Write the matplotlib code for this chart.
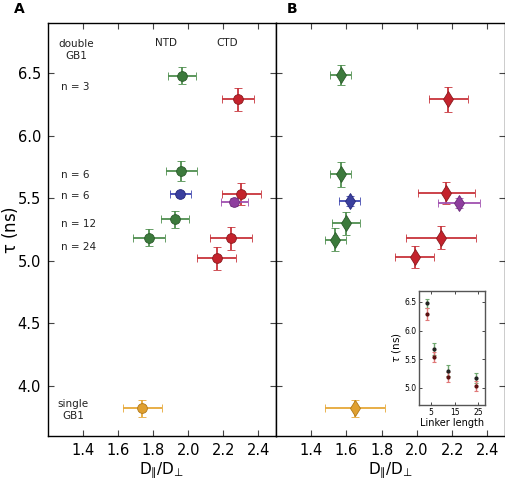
import matplotlib
matplotlib.use("Agg")
import matplotlib.pyplot as plt

plt.rcParams['font.family'] = ['DejaVu Sans']
plt.rcParams['mathtext.fontset'] = 'dejavusans'

# ---- data: panel A (circles) ----
labels = ["NTD n=3", "CTD n=3", "NTD n=6", "NTD(blue) n=6", "CTD n=6", "CTD(purple) n=6",
          "NTD n=12", "CTD n=12", "NTD n=24", "CTD n=24", "single GB1"]
colors = ["green", "red", "green", "blue", "red", "purple",
          "green", "red", "green", "red", "orange"]
A_x = [1.963, 2.282, 1.960, 1.954, 2.303, 2.262, 1.925, 2.243, 1.777, 2.162, 1.738]
A_xerr = [0.08, 0.09, 0.09, 0.06, 0.11, 0.076, 0.08, 0.12, 0.09, 0.11, 0.11]
A_y = [6.48, 6.29, 5.72, 5.53, 5.535, 5.47, 5.33, 5.18, 5.185, 5.02, 3.82]
A_yerr = [0.07, 0.09, 0.08, 0.02, 0.09, 0.03, 0.07, 0.09, 0.07, 0.09, 0.07]

# ---- data: panel B (diamonds) ----
B_x = [1.567, 2.178, 1.567, 1.618, 2.167, 2.237, 1.599, 2.136, 1.537, 1.987, 1.648]
B_xerr = [0.06, 0.11, 0.06, 0.06, 0.16, 0.12, 0.08, 0.20, 0.06, 0.11, 0.17]
B_y = [6.485, 6.29, 5.69, 5.48, 5.54, 5.46, 5.30, 5.185, 5.17, 5.03, 3.82]
B_yerr = [0.08, 0.10, 0.10, 0.04, 0.09, 0.04, 0.09, 0.09, 0.09, 0.09, 0.07]

# ---- inset data ----
linker = [3, 6, 12, 24]
inset_ntd = [6.48, 5.68, 5.30, 5.17]
inset_ntd_err = [0.08, 0.10, 0.09, 0.09]
inset_ctd = [6.29, 5.54, 5.185, 5.03]
inset_ctd_err = [0.10, 0.09, 0.09, 0.09]

xticks = [1.4, 1.6, 1.8, 2.0, 2.2, 2.4]
yticks = [4.0, 4.5, 5.0, 5.5, 6.0, 6.5]

palette = {
    "green": ("#3c7a3c", "#2a5a2a", "#4f8f4f"),
    "red": ("#c4222c", "#8a1a1e", "#c8343c"),
    "blue": ("#3a3f9e", "#26287a", "#4048b0"),
    "purple": ("#8e3e9e", "#6a2a78", "#a050b0"),
    "orange": ("#e0a030", "#b07818", "#e6a838"),
}

fig = plt.figure(figsize=(5.06, 4.82), dpi=100)
axA = fig.add_axes([48/506, 1-436/482, 228/506, 413/482])
axB = fig.add_axes([276/506, 1-436/482, 229/506, 413/482])

def draw(ax, xs, xe, ys, ye, marker, ms):
    for x, dx, y, dy, c in zip(xs, xe, ys, ye, colors):
        face, edge, bar = palette[c]
        ax.errorbar(x, y, xerr=dx, yerr=dy, fmt=marker, color=bar, ecolor=bar,
                    mfc=face, mec=edge, ms=ms, elinewidth=1.3, capsize=3, capthick=1.0,
                    mew=0.6, zorder=3)

draw(axA, A_x, A_xerr, A_y, A_yerr, 'o', 7)
draw(axB, B_x, B_xerr, B_y, B_yerr, 'd', 8)

xlab = r'$\mathrm{D}_{∥}/\mathrm{D}_{⊥}$'
for ax in (axA, axB):
    ax.set_xlim(1.2, 2.5)
    ax.set_ylim(3.6, 6.9)
    ax.set_xticks(xticks)
    ax.set_yticks(yticks)
    ax.tick_params(direction='in', top=True, right=True, length=4, width=0.8,
                   labelsize=10.5, pad=5, color='#444444')
    for s in ax.spines.values():
        s.set_linewidth(1.0)
    ax.set_xlabel(xlab, fontsize=11, labelpad=2)

axB.tick_params(labelleft=False)
axA.set_ylabel(r'$\mathrm{\tau}$ (ns)', fontsize=12)
axA.yaxis.set_label_coords(-0.125, 0.5)

# panel A annotations
tk = dict(fontsize=7.5, color='#222222')
axA.text(1.362, 6.685, "double\nGB1", ha='center', va='center', linespacing=1.25, **tk)
axA.text(1.873, 6.74, "NTD", ha='center', va='center', **tk)
axA.text(2.22, 6.74, "CTD", ha='center', va='center', **tk)
axA.text(1.272, 6.39, "n = 3", ha='left', va='center', **tk)
axA.text(1.272, 5.687, "n = 6", ha='left', va='center', **tk)
axA.text(1.272, 5.52, "n = 6", ha='left', va='center', **tk)
axA.text(1.272, 5.293, "n = 12", ha='left', va='center', **tk)
axA.text(1.272, 5.112, "n = 24", ha='left', va='center', **tk)
axA.text(1.345, 3.81, "single\nGB1", ha='center', va='center', linespacing=1.25, **tk)

fig.text(19/506, 1-9/482, "A", fontsize=10, fontweight='bold', ha='center', va='center')
fig.text(292/506, 1-9/482, "B", fontsize=10, fontweight='bold', ha='center', va='center')

# inset
axI = fig.add_axes([419.5/506, 1-405/482, 65.5/506, 114.5/482])
axI.errorbar(linker, inset_ntd, yerr=inset_ntd_err, fmt='o', ms=2, color='#222222',
             ecolor='#6fa86f', elinewidth=1.0, capsize=1.5, capthick=0.8, zorder=3)
axI.errorbar(linker, inset_ctd, yerr=inset_ctd_err, fmt='o', ms=2, color='#5a1010',
             ecolor='#e07878', elinewidth=1.0, capsize=1.5, capthick=0.8, zorder=3)
axI.set_xlim(0, 28)
axI.set_ylim(4.7, 6.7)
axI.set_xticks([5, 15, 25])
axI.set_yticks([5.0, 5.5, 6.0, 6.5])
axI.tick_params(direction='in', top=True, right=True, length=2, width=0.5, labelsize=5.5, pad=2)
for s in axI.spines.values():
    s.set_linewidth(1.0)
    s.set_color('#555555')
axI.set_xlabel("Linker length", fontsize=7, labelpad=1)
axI.set_ylabel(r'$\tau$ (ns)', fontsize=7.5, labelpad=1)

fig.savefig("out.png", dpi=100)
